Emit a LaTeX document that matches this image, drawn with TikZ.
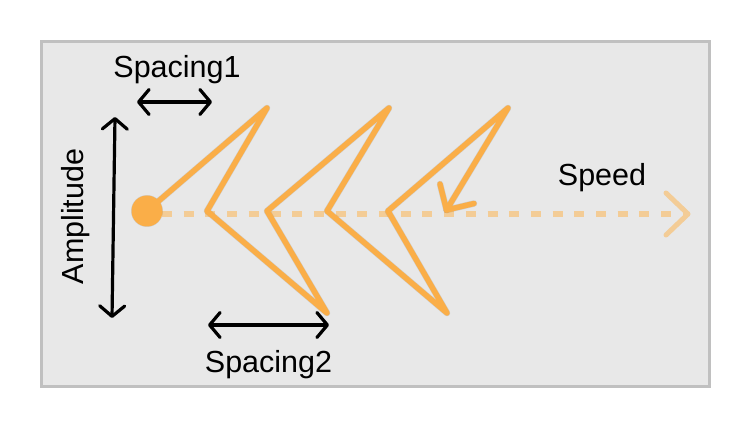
\documentclass[tikz,border=0pt]{standalone}
\usepackage{fontspec}
\setmainfont{Liberation Sans}
\usetikzlibrary{arrows.meta}
\definecolor{zz}{RGB}{250,174,72}
\definecolor{speedcol}{RGB}{243,204,150}
\definecolor{bgfill}{RGB}{232,232,232}
\definecolor{bord}{RGB}{192,192,192}
\begin{document}
\begin{tikzpicture}[x=1pt,y=-1pt,
  lbl/.style={font=\fontsize{30.5}{36}\selectfont, inner sep=0pt, text=black},
  dimarrow/.style={line width=3.2pt, black, line cap=round,
    {Straight Barb[length=10.5pt,width=25pt,round]}-{Straight Barb[length=10.5pt,width=25pt,round]}},
  zig/.style={line width=5.5pt, draw=zz, line cap=round, line join=round},
  zigshadow/.style={line width=6.5pt, draw=black, opacity=0.10, line cap=round, line join=round},
  speedline/.style={line width=5.5pt, draw=speedcol, dash pattern=on 10pt off 11.7pt},
  speedhead/.style={line width=5pt, draw=speedcol, line cap=round, line join=round}]
\useasboundingbox (0,0) rectangle (750,430);
\draw[bord, fill=bgfill, line width=3pt] (41,42) rectangle (709,387);

% coordinates of the wave
\coordinate (p0) at (147,211);
\coordinate (p1) at (267,108);
\coordinate (p2) at (207,211);
\coordinate (p3) at (327,313);
\coordinate (p4) at (267,211);
\coordinate (p5) at (389,108);
\coordinate (p6) at (327,211);
\coordinate (p7) at (447,313);
\coordinate (p8) at (388,211);
\coordinate (p9) at (508,108);
\coordinate (tip) at (446.5,210);
\coordinate (arm1) at (440,184);
\coordinate (arm2) at (474,203.5);

% speed line
\coordinate (s0) at (162,214);
\coordinate (s1) at (684,214);
\coordinate (h1) at (666,193);
\coordinate (h2) at (688,214);
\coordinate (h3) at (666,235);
\draw[speedline] (s0) -- (s1);
\draw[speedhead] (h1) -- (h2) -- (h3);

% shadow
\begin{scope}[shift={(2,3)}]
\draw[zigshadow] (p0) -- (p1) -- (p2) -- (p3) -- (p4) -- (p5) -- (p6) -- (p7) -- (p8) -- (p9) -- (tip);
\draw[zigshadow] (arm1) -- (tip) -- (arm2);
\fill[black, opacity=0.10] (p0) circle (16);
\end{scope}

% wave
\draw[zig] (p0) -- (p1) -- (p2) -- (p3) -- (p4) -- (p5) -- (p6) -- (p7) -- (p8) -- (p9) -- (tip);
\draw[zig] (arm1) -- (tip) -- (arm2);
\node[circle, fill=zz, minimum size=31pt, inner sep=0pt] (dot) at (p0) {};

% dimension arrows
\coordinate (a1) at (137,102);
\coordinate (a2) at (212,102);
\draw[dimarrow] (a1) -- (a2);
\coordinate (b1) at (115,117);
\coordinate (b2) at (112,318);
\draw[dimarrow] (b1) -- (b2);
\coordinate (c1) at (208,325);
\coordinate (c2) at (329,325);
\draw[dimarrow] (c1) -- (c2);

% labels
\node[lbl, anchor=base] (sp1) at (177,78) {Spacing1};
\node[lbl, anchor=base] (sp2) at (268.5,372.5) {Spacing2};
\node[lbl, anchor=base] (spd) at (602,186) {Speed};
\node[lbl, anchor=base, rotate=90] (amp) at (83,216.5) {Amplitude};
\end{tikzpicture}
\end{document}
